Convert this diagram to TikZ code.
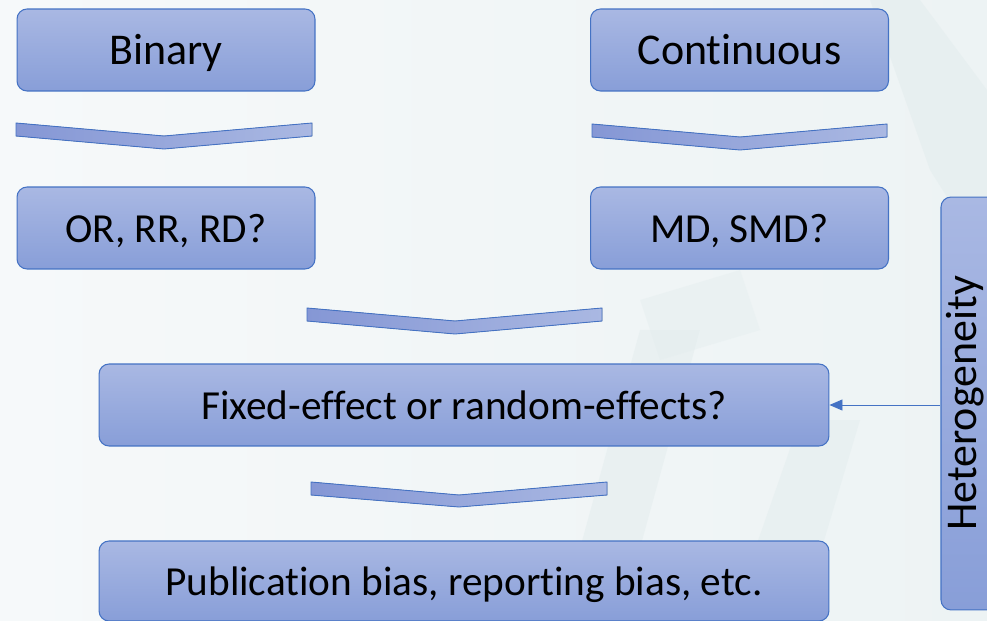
\documentclass[tikz,border=0pt]{standalone}
\usepackage{fontspec}
\setmainfont[Ligatures=NoCommon]{Carlito}
\usetikzlibrary{arrows.meta}
\definecolor{boxtop}{HTML}{A9B8E3}
\definecolor{boxbot}{HTML}{889ED8}
\definecolor{boxline}{HTML}{4472C4}
\definecolor{chevleft}{HTML}{8597D5}
\definecolor{chevright}{HTML}{AAB8E2}
\definecolor{bgleft}{HTML}{F6F9FA}
\definecolor{bgright}{HTML}{EDF3F4}
\definecolor{bgshape}{HTML}{E3EDEE}
\tikzset{
  stepbox/.style={draw=boxline, line width=0.6pt, rounded corners=0.2cm,
    top color=boxtop, bottom color=boxbot, inner sep=0pt,
    minimum width=5.96cm, minimum height=1.64cm,
    text height=17pt, text depth=0pt,
    font=\fontsize{23.5}{28}\selectfont},
  topbox/.style={stepbox, font=\fontsize{25}{30}\selectfont},
  widebox/.style={stepbox, minimum width=14.6cm},
  chev/.style={draw=boxline, line width=0.5pt, left color=chevleft, right color=chevright},
  heteroarrow/.style={draw=boxline, line width=0.5pt, -{Triangle[length=2.6mm,width=2.2mm]}}
}
\begin{document}
\begin{tikzpicture}[x=0.02cm,y=-0.02cm]
    \shade[left color=bgleft, right color=bgright] (0,0) rectangle (987,621);% the slide
    \useasboundingbox (0,0) rectangle (987,621);
    % faint background pattern
    \fill[bgshape, opacity=0.5] (560,621) -- (640,330) -- (700,330) -- (620,621) -- cycle;
    \fill[bgshape, opacity=0.5] (730,621) -- (800,420) -- (860,420) -- (800,621) -- cycle;
    \fill[bgshape, opacity=0.6] (920,0) -- (987,90) -- (987,260) -- (930,170) -- (870,0) -- cycle;
    \fill[bgshape, opacity=0.4] (640,300) -- (740,270) -- (760,330) -- (660,360) -- cycle;
    % outcome type
    \node[topbox] (bin) at (166,50) {Binary};
    \node[topbox] (cont) at (739.5,50) {Continuous};
    \filldraw[chev] (16,123) -- (164,136) -- (312,123) -- (312,136) -- (164,149) -- (16,136) -- cycle;
    \filldraw[chev] (592,124) -- (740,137) -- (887,124) -- (887,137) -- (740,150) -- (592,137) -- cycle;
    % effect measure
    \node[stepbox] (binq) at (166,228) {OR, RR, RD?};
    \node[stepbox] (contq) at (739.5,228) {MD, SMD?};
    \filldraw[chev] (307,308) -- (455,321) -- (602,308) -- (602,321) -- (455,334) -- (307,321) -- cycle;
    % model
    \node[widebox] (model) at (464,405) {Fixed-effect or random-effects?};
    \filldraw[chev] (311,482) -- (459,495) -- (607,482) -- (607,495) -- (459,507) -- (311,495) -- cycle;
    \node[widebox, minimum height=1.6cm] (bias) at (464,581) {Publication bias, reporting bias, etc.};
    % heterogeneity
    \node[stepbox, rotate=90, minimum width=8.26cm, minimum height=1.3cm,
      font=\fontsize{25}{30}\selectfont] (het) at (973.5,403.5) {};
    \node[rotate=90, inner sep=0pt, text height=17pt, text depth=0pt,
      font=\fontsize{25}{30}\selectfont] (hettext) at (962,403.5) {Heterogeneity};
    \draw[heteroarrow] (model.east -| het.north) -- (model.east);
\end{tikzpicture}
\end{document}
